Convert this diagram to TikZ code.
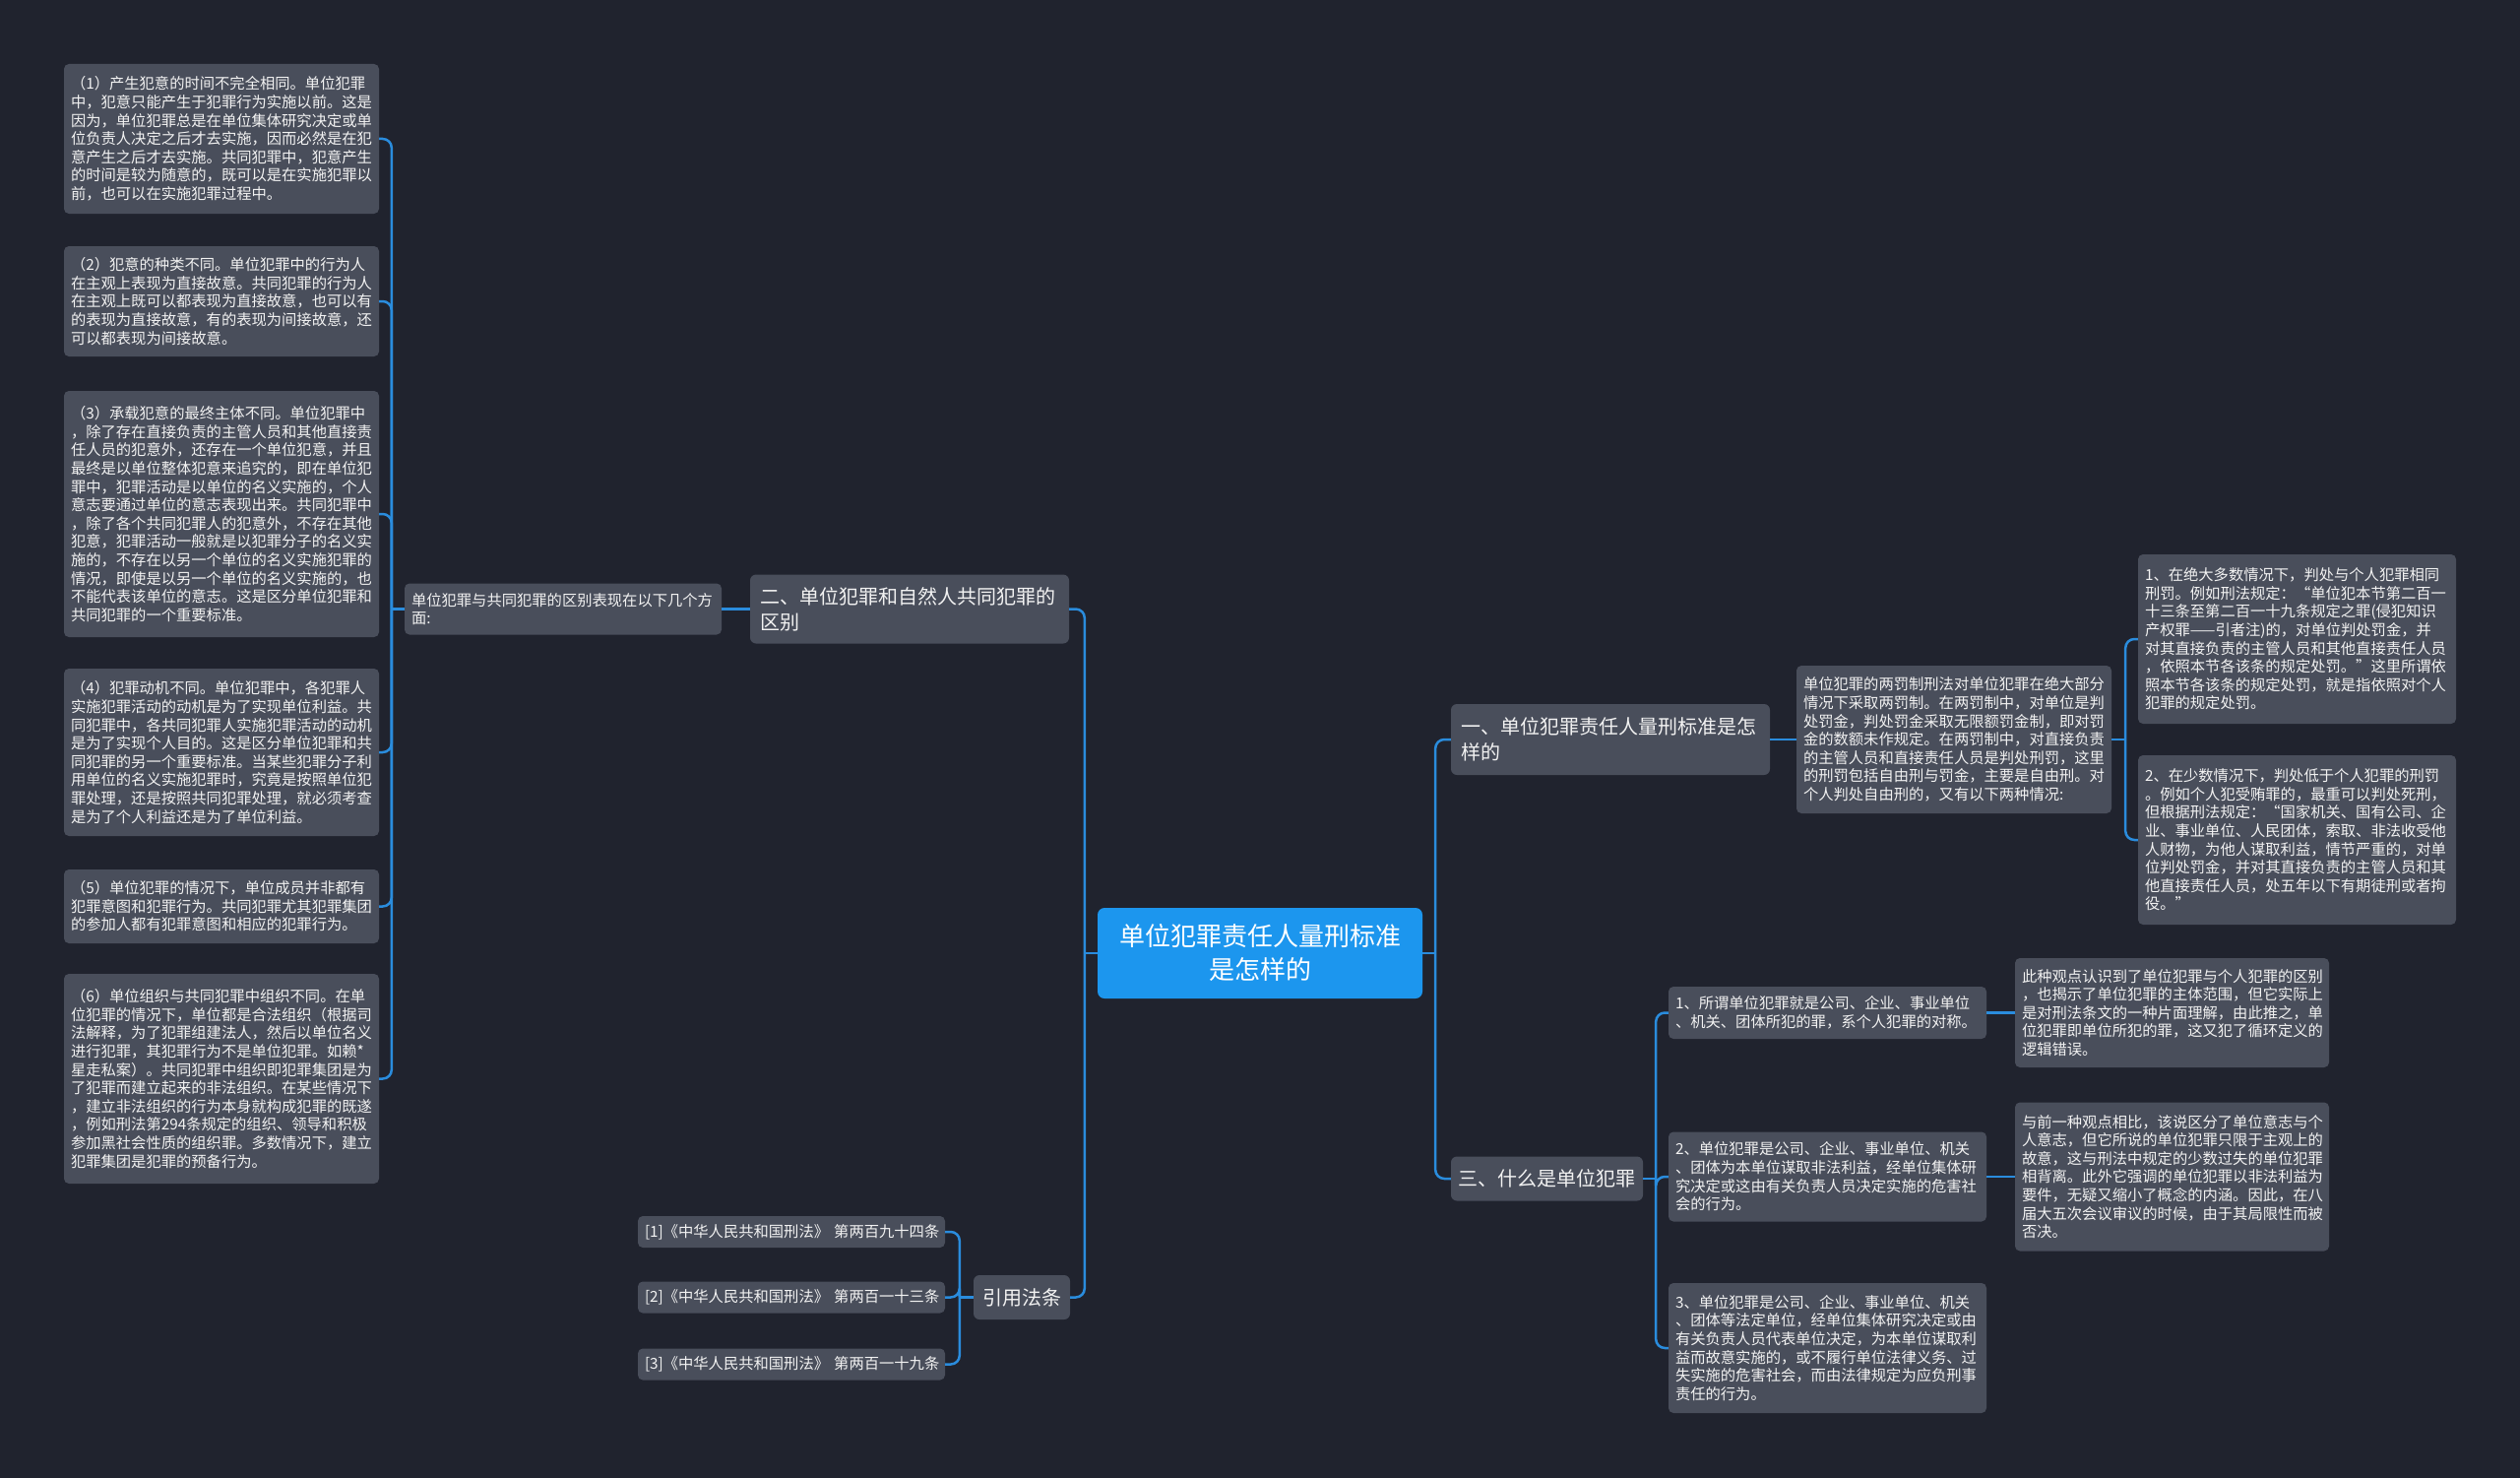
\documentclass[tikz,border=0pt]{standalone}
\usepackage{fontspec}
\setmainfont{Noto Sans CJK SC}
\usetikzlibrary{calc}
\definecolor{bgc}{HTML}{20232E}
\definecolor{boxc}{HTML}{494E5B}
\definecolor{mainc}{HTML}{1C96EE}
\definecolor{linec}{HTML}{2A8CDD}
\definecolor{txtc}{HTML}{F2F2F2}
\tikzset{
 box/.style={fill=boxc, rounded corners=5pt, text=txtc, inner xsep=7pt, inner ysep=0pt, align=left, font=\fontsize{15.3}{18.6}\selectfont},
 topic/.style={fill=boxc, rounded corners=6pt, text=txtc, inner xsep=10pt, inner ysep=0pt, align=left, font=\fontsize{20}{26}\selectfont},
 rootnode/.style={fill=mainc, rounded corners=7pt, text=white, inner ysep=0pt, align=center, font=\fontsize{26}{34}\selectfont},
 conn/.style={draw=linec, line width=2.5pt},
 trunk/.style={conn, rounded corners=9pt},
}
\begin{document}
\begin{tikzpicture}[x=1pt,y=-1pt]
\path[fill=bgc] (0,0) rectangle (2560,1501);

% root
\node[rootnode, minimum width=330, minimum height=92, text width=310] (c) at (1280,968) {单位犯罪责任人量刑标准\\是怎样的};

% level 1
\node[topic, minimum width=324, minimum height=70, text width=304] (n2) at (924,618.5) {二、单位犯罪和自然人共同犯罪的\\区别};
\node[topic, minimum width=98, minimum height=45, inner xsep=9pt] (n3) at (1038,1317.5) {引用法条};
\node[topic, minimum width=324, minimum height=72, text width=304] (n1) at (1636,751) {一、单位犯罪责任人量刑标准是怎\\样的};
\node[topic, minimum width=195, minimum height=45, inner xsep=7pt] (n4) at (1571.5,1197) {三、什么是单位犯罪};

% left branch
\node[box, minimum width=322, minimum height=52, text width=308] (l2) at (572,618.5) {单位犯罪与共同犯罪的区别表现在以下几个方\\面:};

\node[box, minimum width=320, minimum height=152, text width=306] (b1) at (225,141) {（1）产生犯意的时间不完全相同。单位犯罪\\中，犯意只能产生于犯罪行为实施以前。这是\\因为，单位犯罪总是在单位集体研究决定或单\\位负责人决定之后才去实施，因而必然是在犯\\意产生之后才去实施。共同犯罪中，犯意产生\\的时间是较为随意的，既可以是在实施犯罪以\\前，也可以在实施犯罪过程中。};
\node[box, minimum width=320, minimum height=112, text width=306] (b2) at (225,306) {（2）犯意的种类不同。单位犯罪中的行为人\\在主观上表现为直接故意。共同犯罪的行为人\\在主观上既可以都表现为直接故意，也可以有\\的表现为直接故意，有的表现为间接故意，还\\可以都表现为间接故意。};
\node[box, minimum width=320, minimum height=250, text width=306] (b3) at (225,522) {（3）承载犯意的最终主体不同。单位犯罪中\\，除了存在直接负责的主管人员和其他直接责\\任人员的犯意外，还存在一个单位犯意，并且\\最终是以单位整体犯意来追究的，即在单位犯\\罪中，犯罪活动是以单位的名义实施的，个人\\意志要通过单位的意志表现出来。共同犯罪中\\，除了各个共同犯罪人的犯意外，不存在其他\\犯意，犯罪活动一般就是以犯罪分子的名义实\\施的，不存在以另一个单位的名义实施犯罪的\\情况，即使是以另一个单位的名义实施的，也\\不能代表该单位的意志。这是区分单位犯罪和\\共同犯罪的一个重要标准。};
\node[box, minimum width=320, minimum height=170, text width=306] (b4) at (225,764) {（4）犯罪动机不同。单位犯罪中，各犯罪人\\实施犯罪活动的动机是为了实现单位利益。共\\同犯罪中，各共同犯罪人实施犯罪活动的动机\\是为了实现个人目的。这是区分单位犯罪和共\\同犯罪的另一个重要标准。当某些犯罪分子利\\用单位的名义实施犯罪时，究竟是按照单位犯\\罪处理，还是按照共同犯罪处理，就必须考查\\是为了个人利益还是为了单位利益。};
\node[box, minimum width=320, minimum height=75, text width=306] (b5) at (225,920.5) {（5）单位犯罪的情况下，单位成员并非都有\\犯罪意图和犯罪行为。共同犯罪尤其犯罪集团\\的参加人都有犯罪意图和相应的犯罪行为。};
\node[box, minimum width=320, minimum height=213, text width=306] (b6) at (225,1095.5) {（6）单位组织与共同犯罪中组织不同。在单\\位犯罪的情况下，单位都是合法组织（根据司\\法解释，为了犯罪组建法人，然后以单位名义\\进行犯罪，其犯罪行为不是单位犯罪。如赖*\\星走私案）。共同犯罪中组织即犯罪集团是为\\了犯罪而建立起来的非法组织。在某些情况下\\，建立非法组织的行为本身就构成犯罪的既遂\\，例如刑法第294条规定的组织、领导和积极\\参加黑社会性质的组织罪。多数情况下，建立\\犯罪集团是犯罪的预备行为。};

% citations
\node[box, minimum width=312, minimum height=32, text width=298] (q1) at (804,1251) {\mbox{[1]《中华人民共和国刑法》 第两百九十四条}};
\node[box, minimum width=312, minimum height=32, text width=298] (q2) at (804,1317.5) {\mbox{[2]《中华人民共和国刑法》 第两百一十三条}};
\node[box, minimum width=312, minimum height=32, text width=298] (q3) at (804,1385.5) {\mbox{[3]《中华人民共和国刑法》 第两百一十九条}};

% right upper branch
\node[box, minimum width=320, minimum height=150, text width=306] (r0) at (1985,751) {单位犯罪的两罚制刑法对单位犯罪在绝大部分\\情况下采取两罚制。在两罚制中，对单位是判\\处罚金，判处罚金采取无限额罚金制，即对罚\\金的数额未作规定。在两罚制中，对直接负责\\的主管人员和直接责任人员是判处刑罚，这里\\的刑罚包括自由刑与罚金，主要是自由刑。对\\个人判处自由刑的，又有以下两种情况:};
\node[box, minimum width=323, minimum height=172, text width=309] (r1) at (2333.5,649) {1、在绝大多数情况下，判处与个人犯罪相同\\刑罚。例如刑法规定：“单位犯本节第二百一\\十三条至第二百一十九条规定之罪(侵犯知识\\产权罪——引者注)的，对单位判处罚金，并\\对其直接负责的主管人员和其他直接责任人员\\，依照本节各该条的规定处罚。”这里所谓依\\照本节各该条的规定处罚，就是指依照对个人\\犯罪的规定处罚。};
\node[box, minimum width=323, minimum height=172, text width=309] (r2) at (2333.5,853) {2、在少数情况下，判处低于个人犯罪的刑罚\\。例如个人犯受贿罪的，最重可以判处死刑，\\但根据刑法规定：“国家机关、国有公司、企\\业、事业单位、人民团体，索取、非法收受他\\人财物，为他人谋取利益，情节严重的，对单\\位判处罚金，并对其直接负责的主管人员和其\\他直接责任人员，处五年以下有期徒刑或者拘\\役。”};

% right lower branch
\node[box, minimum width=323, minimum height=53, text width=309] (s1) at (1856.5,1028.5) {1、所谓单位犯罪就是公司、企业、事业单位\\、机关、团体所犯的罪，系个人犯罪的对称。};
\node[box, minimum width=323, minimum height=91, text width=309] (s2) at (1856.5,1195) {2、单位犯罪是公司、企业、事业单位、机关\\、团体为本单位谋取非法利益，经单位集体研\\究决定或这由有关负责人员决定实施的危害社\\会的行为。};
\node[box, minimum width=323, minimum height=132, text width=309] (s3) at (1856.5,1369) {3、单位犯罪是公司、企业、事业单位、机关\\、团体等法定单位，经单位集体研究决定或由\\有关负责人员代表单位决定，为本单位谋取利\\益而故意实施的，或不履行单位法律义务、过\\失实施的危害社会，而由法律规定为应负刑事\\责任的行为。};
\node[box, minimum width=319, minimum height=111, text width=305] (t1) at (2206.5,1028.5) {此种观点认识到了单位犯罪与个人犯罪的区别\\，也揭示了单位犯罪的主体范围，但它实际上\\是对刑法条文的一种片面理解，由此推之，单\\位犯罪即单位所犯的罪，这又犯了循环定义的\\逻辑错误。};
\node[box, minimum width=319, minimum height=151, text width=305] (t2) at (2206.5,1195) {与前一种观点相比，该说区分了单位意志与个\\人意志，但它所说的单位犯罪只限于主观上的\\故意，这与刑法中规定的少数过失的单位犯罪\\相背离。此外它强调的单位犯罪以非法利益为\\要件，无疑又缩小了概念的内涵。因此，在八\\届大五次会议审议的时候，由于其局限性而被\\否决。};

% junction coordinates
\coordinate (jR) at ($(c.east)+(13,0)$);
\coordinate (jL) at ($(c.west)+(-13,0)$);
\coordinate (jLL) at ($(l2.west)+(-13,0)$);
\coordinate (jC) at ($(n3.west)+(-14,0)$);
\coordinate (jR2) at ($(r0.east)+(14,0)$);
\coordinate (jR3) at ($(n4.east)+(13,0)$);

% connectors
\draw[conn] (c.east) -- (jR);
\draw[trunk] (jR) |- (n1.west);
\draw[trunk] (jR) |- (n4.west);
\draw[conn] (c.west) -- (jL);
\draw[trunk] (jL) |- (n2.east);
\draw[trunk] (jL) |- (n3.east);

\draw[conn] (n2.west) -- (l2.east);
\draw[conn] (l2.west) -- (jLL);
\foreach \b in {b1,b2,b3,b4,b5,b6} \draw[trunk] (jLL) |- (\b.east);

\draw[conn] (n3.west) -- (jC);
\foreach \q in {q1,q2,q3} \draw[trunk] (jC) |- (\q.east);

\draw[conn] (n1.east) -- (r0.west);
\draw[conn] (r0.east) -- (jR2);
\draw[trunk] (jR2) |- (r1.west);
\draw[trunk] (jR2) |- (r2.west);

\draw[conn] (n4.east) -- (jR3);
\foreach \s in {s1,s2,s3} \draw[trunk] (jR3) |- (\s.west);
\draw[conn] (s1.east) -- (t1.west);
\draw[conn] (s2.east) -- (t2.west);
\end{tikzpicture}
\end{document}
